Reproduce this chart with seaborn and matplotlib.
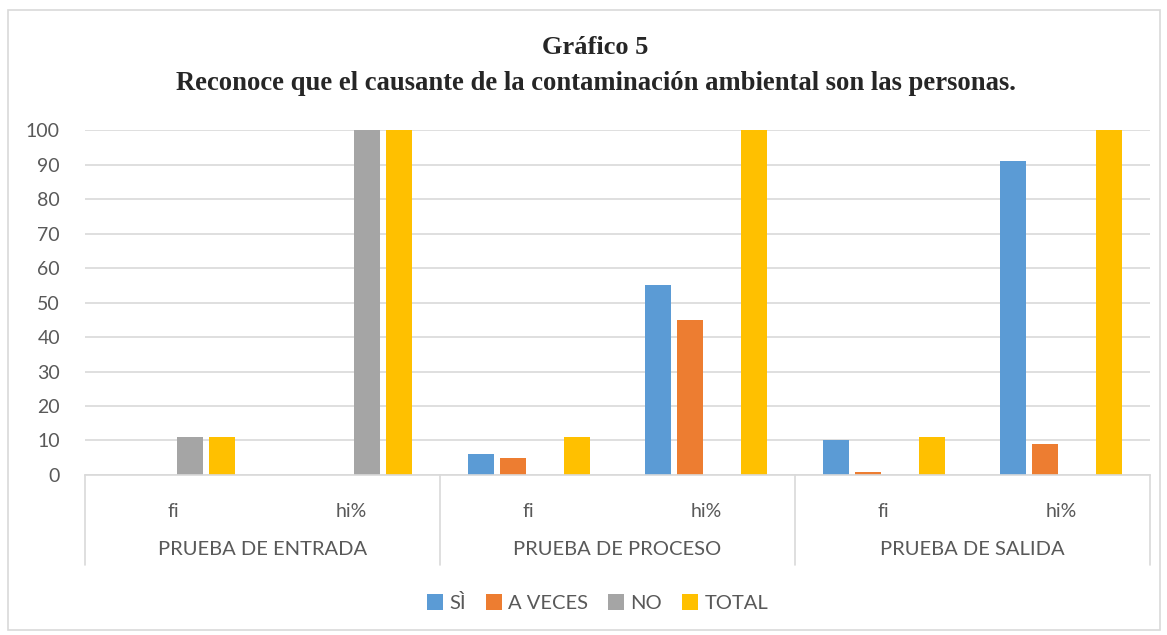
import matplotlib.pyplot as plt
import matplotlib.transforms as mtransforms
from matplotlib.patches import Rectangle, Patch
import pandas as pd
import seaborn as sns

# Data
pruebas = ["PRUEBA DE ENTRADA", "PRUEBA DE PROCESO", "PRUEBA DE SALIDA"]
medidas = ["fi", "hi%"]
series = ["SÌ", "A VECES", "NO", "TOTAL"]
colores = ["#5B9BD5", "#ED7D31", "#A5A5A5", "#FFC000"]

si = [0, 0, 6, 55, 10, 91]
a_veces = [0, 0, 5, 45, 1, 9]
no = [11, 100, 0, 0, 0, 0]
total = [11, 100, 11, 100, 11, 100]

# Long table for seaborn
posiciones = [p + " | " + m for p in pruebas for m in medidas]
filas = []
for nombre, valores in zip(series, [si, a_veces, no, total]):
    for pos, v in zip(posiciones, valores):
        filas.append({"pos": pos, "serie": nombre, "valor": v})
df = pd.DataFrame(filas)

sns.set_style("white")
plt.rcParams["font.family"] = ["Lato", "DejaVu Sans"]
gris = "#595959"

fig = plt.figure(figsize=(11.67, 6.35), dpi=100)
ax = fig.add_axes([0.0728, 0.252, 0.9126, 0.543])

sns.barplot(data=df, x="pos", y="valor", hue="serie", order=posiciones,
            hue_order=series, palette=colores, saturation=1, width=0.72,
            gap=0.19, linewidth=0, ax=ax, legend=False)

ax.set_xlim(-0.5, 5.5)
ax.set_ylim(0, 100)
ax.set_yticks(range(0, 101, 10))
ax.yaxis.grid(True, color="#D9D9D9", linewidth=1.2)
ax.set_axisbelow(True)
for s in ["top", "right", "left"]:
    ax.spines[s].set_visible(False)
ax.spines["bottom"].set_color("#D9D9D9")
ax.spines["bottom"].set_linewidth(1.2)
ax.set_xlabel("")
ax.set_ylabel("")
ax.set_xticks(range(len(posiciones)))
ax.set_xticklabels([m for p in pruebas for m in medidas])
ax.tick_params(axis="x", length=0, pad=20, labelsize=14, labelcolor=gris)
ax.tick_params(axis="y", length=0, pad=18, labelsize=14, labelcolor=gris)

# Group labels and separators
trans = mtransforms.blended_transform_factory(ax.transData, ax.transAxes)
for i, p in enumerate(pruebas):
    ax.text(2 * i + 0.5, -0.217, p, transform=trans, ha="center", va="center",
            fontsize=14.5, color=gris)
for xs in [-0.5, 1.5, 3.5, 5.5]:
    ax.plot([xs, xs], [0, -0.262], transform=trans, color="#D9D9D9",
            linewidth=1.2, clip_on=False)

# Titles
fig.text(595 / 1167, 1 - 48 / 635, "Gráfico 5", ha="center", va="center",
         fontsize=19, fontweight="bold", family="Liberation Serif")
fig.text(596 / 1167, 1 - 84 / 635,
         "Reconoce que el causante de la contaminación ambiental son las personas.",
         ha="center", va="center", fontsize=19.2, fontweight="bold",
         family="Liberation Serif")

# Legend
handles = [Patch(facecolor=c, edgecolor="none") for c in colores]
leg = fig.legend(handles, series, loc="center", bbox_to_anchor=(0.512, 1 - 603 / 635),
                 ncol=4, frameon=False, handlelength=0.8, handleheight=0.8,
                 handletextpad=0.3, columnspacing=1.0, fontsize=14.5)
for t in leg.get_texts():
    t.set_color(gris)

# Chart border
fig.patches.append(Rectangle((8 / 1167, 5 / 635), 1152 / 1167, 620 / 635,
                             transform=fig.transFigure, fill=False,
                             edgecolor="#D9D9D9", linewidth=1.2))

plt.savefig("out.png", dpi=100)
